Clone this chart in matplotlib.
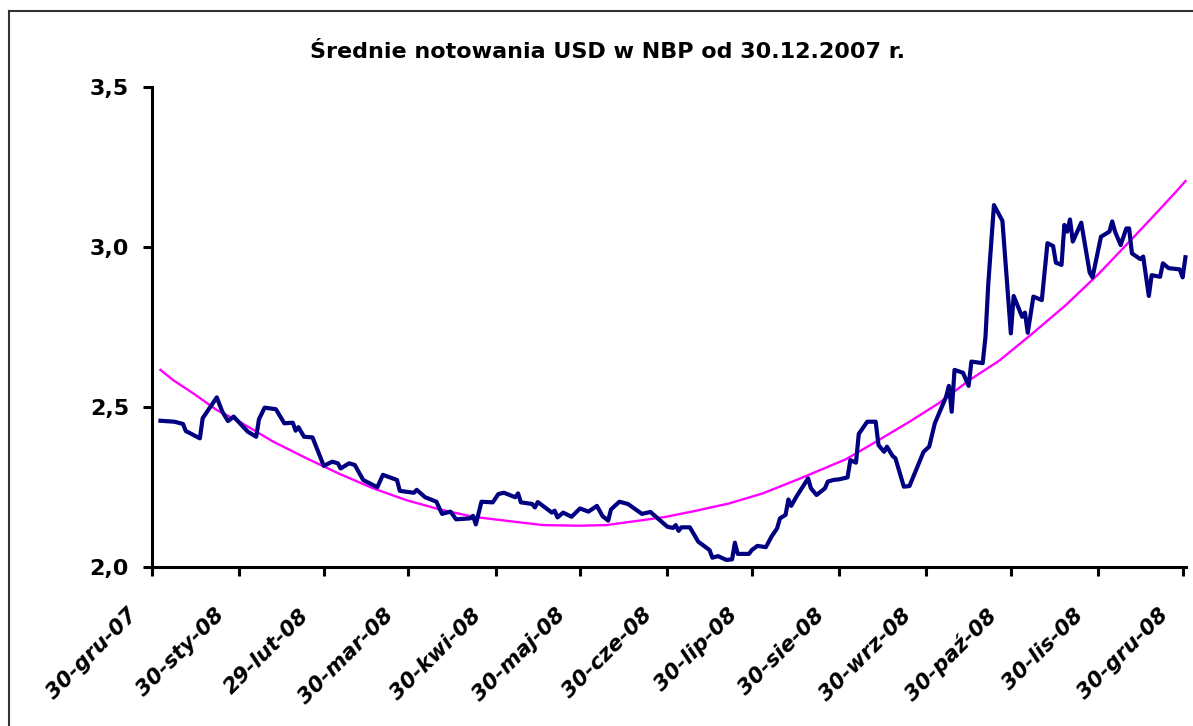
import numpy as np
import pandas as pd
import matplotlib
matplotlib.use("Agg")
import matplotlib.pyplot as plt
from matplotlib.lines import Line2D
from matplotlib.transforms import ScaledTranslation

plt.rcParams['font.family'] = ['DejaVu Sans']

# days counted from 30.12.2007
base = pd.Timestamp("2007-12-30")
day = [3, 8, 11, 12, 17, 18, 23, 25, 27, 29, 34, 37, 38, 40, 44, 47, 50, 51, 52, 54,
       57, 61, 64, 66, 67, 70, 72, 75, 80, 82, 87, 88, 93, 94, 97, 101, 103, 106, 108, 113,
       114, 115, 117, 121, 123, 125, 129, 130, 131, 135, 136, 137, 142, 143, 144, 146, 149, 152, 155, 158,
       160, 162, 163, 166, 169, 174, 177, 183, 185, 186, 187, 188, 191, 194, 198, 199, 201, 204, 206, 207,
       208, 212, 213, 215, 218, 220, 222, 223, 225, 226, 227, 229, 233, 234, 236, 239, 240, 242, 244, 247,
       248, 250, 251, 253, 254, 257, 258, 260, 261, 263, 264, 267, 269, 274, 276, 278, 282, 283, 284, 285,
       288, 290, 291, 295, 296, 297, 299, 302, 305, 306, 309, 310, 311, 313, 316, 318, 320, 321, 323, 324,
       325, 326, 327, 330, 333, 334, 337, 340, 341, 342, 344, 346, 347, 348, 351, 352, 354, 355, 358, 359,
       361, 365, 366, 367]
usd = [2.457, 2.454, 2.447, 2.425, 2.402, 2.465, 2.530, 2.485, 2.456, 2.470, 2.423, 2.407, 2.462, 2.498, 2.493, 2.449, 2.451, 2.426, 2.437, 2.407,
       2.405, 2.316, 2.329, 2.324, 2.308, 2.324, 2.319, 2.272, 2.249, 2.288, 2.272, 2.238, 2.232, 2.241, 2.218, 2.204, 2.166, 2.173, 2.149, 2.152,
       2.160, 2.133, 2.204, 2.202, 2.228, 2.232, 2.218, 2.230, 2.202, 2.197, 2.186, 2.203, 2.170, 2.176, 2.155, 2.170, 2.157, 2.183, 2.173, 2.191,
       2.159, 2.145, 2.180, 2.204, 2.197, 2.166, 2.172, 2.126, 2.122, 2.131, 2.113, 2.124, 2.124, 2.079, 2.053, 2.029, 2.034, 2.022, 2.024, 2.076,
       2.041, 2.041, 2.053, 2.066, 2.062, 2.095, 2.121, 2.152, 2.163, 2.211, 2.191, 2.222, 2.277, 2.246, 2.225, 2.246, 2.267, 2.272, 2.274, 2.280,
       2.334, 2.326, 2.416, 2.441, 2.454, 2.454, 2.381, 2.360, 2.376, 2.347, 2.340, 2.251, 2.253, 2.360, 2.376, 2.449, 2.532, 2.566, 2.485, 2.616,
       2.607, 2.566, 2.642, 2.637, 2.720, 2.887, 3.131, 3.082, 2.730, 2.847, 2.782, 2.795, 2.732, 2.845, 2.834, 3.012, 3.003, 2.951, 2.944, 3.069,
       3.048, 3.086, 3.017, 3.076, 2.920, 2.905, 3.032, 3.048, 3.080, 3.048, 3.006, 3.058, 3.058, 2.980, 2.962, 2.970, 2.847, 2.912, 2.907, 2.949,
       2.934, 2.930, 2.905, 2.968]

# trend line
trend_day = [3, 7.5, 14.6, 22.9, 31.1, 43, 54.8, 66.6, 78.5, 90.3, 102.1, 114, 128.2, 138.8, 151.8, 161.3,
             173.1, 182.6, 193.3, 205.1, 216.9, 230, 246.5, 257.2, 269, 279.6, 290.3, 300.9, 312.7, 324.6,
             336.4, 348.2, 357.7, 364.2, 367]
trend = [2.616, 2.584, 2.543, 2.491, 2.454, 2.392, 2.340, 2.291, 2.246, 2.209, 2.180, 2.157, 2.142, 2.131, 2.129, 2.131,
         2.145, 2.157, 2.176, 2.199, 2.230, 2.276, 2.337, 2.392, 2.454, 2.513, 2.584, 2.645, 2.730, 2.819,
         2.918, 3.027, 3.116, 3.178, 3.206]

tick_dates = ["2007-12-30", "2008-01-30", "2008-02-29", "2008-03-30", "2008-04-30", "2008-05-30", "2008-06-30",
              "2008-07-30", "2008-08-30", "2008-09-30", "2008-10-30", "2008-11-30", "2008-12-30"]
tick_labels = ["30-gru-07", "30-sty-08", "29-lut-08", "30-mar-08", "30-kwi-08", "30-maj-08", "30-cze-08",
               "30-lip-08", "30-sie-08", "30-wrz-08", "30-paź-08", "30-lis-08", "30-gru-08"]

fig = plt.figure(figsize=(11.93, 7.26), dpi=100)
ax = fig.add_axes([152/1193, 1 - 567/726, (1186 - 152)/1193, 480/726])

ax.plot(day, usd, color="#000080", lw=3.0, solid_joinstyle="round", clip_on=False, zorder=3)
ax.plot(trend_day, trend, color="#FF00FF", lw=1.7, clip_on=False, zorder=2)

ax.set_xlim(0, 367.2)
ax.set_ylim(2.0, 3.5)
ax.set_yticks([2.0, 2.5, 3.0, 3.5])
ax.set_yticklabels(["2,0", "2,5", "3,0", "3,5"], fontsize=16, fontweight="bold")
tick_x = [(pd.Timestamp(d) - base).days for d in tick_dates]
ax.set_xticks(tick_x)
ax.set_xticklabels([])

# date labels, slanted and set a bit left of each tick
lab_tr = ax.get_xaxis_transform() + ScaledTranslation(-0.25, -0.38, fig.dpi_scale_trans)
for x, lab in zip(tick_x, tick_labels):
    ax.text(x, 0, lab, transform=lab_tr, rotation=45, rotation_mode="anchor",
            ha="right", va="top", fontsize=15.5, fontweight="bold", fontstyle="italic",
            clip_on=False)

for s in ["top", "right"]:
    ax.spines[s].set_visible(False)
for s in ["left", "bottom"]:
    ax.spines[s].set_linewidth(2.2)
ax.tick_params(axis="both", length=6.5, width=2.2, direction="out")
ax.tick_params(axis="y", pad=10)

fig.text(607/1193, 1 - 52/726, "Średnie notowania USD w NBP od 30.12.2007 r.",
         ha="center", va="center", fontsize=16, fontweight="bold")

# chart area frame
fig.add_artist(Line2D([9/1193, 1], [1 - 11/726, 1 - 11/726], color="#333333", lw=1.5))
fig.add_artist(Line2D([9/1193, 9/1193], [0, 1 - 11/726], color="#333333", lw=1.5))

fig.savefig("out.png", dpi=100)
